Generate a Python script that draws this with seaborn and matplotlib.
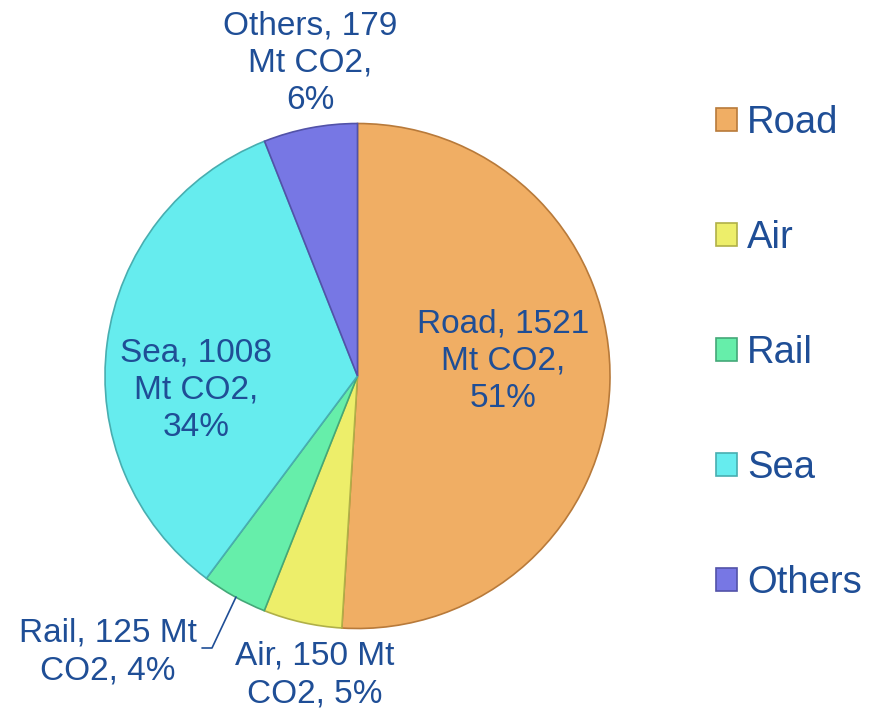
import matplotlib
matplotlib.use("Agg")
import matplotlib.pyplot as plt
from matplotlib.patches import Patch
import seaborn as sns

categories = ["Road", "Air", "Rail", "Sea", "Others"]
values = [1521, 150, 125, 1008, 179]
percents = [51, 5, 4, 34, 6]
label_texts = [
    "Road, 1521\nMt CO2,\n51%",
    "Air, 150 Mt\nCO2, 5%",
    "Rail, 125 Mt\nCO2, 4%",
    "Sea, 1008\nMt CO2,\n34%",
    "Others, 179\nMt CO2,\n6%",
]
fill_colors = ["#F0AE64", "#EDEE6A", "#66EEAA", "#66ECEE", "#7777E4"]
edge_colors = ["#B87A3A", "#B0B048", "#44A878", "#48AEB0", "#5252A8"]

sns.set_style("white")
plt.rcParams["font.family"] = ["Liberation Sans", "DejaVu Sans"]
text_color = "#1F4E96"

W, H = 881, 714
fig = plt.figure(figsize=(W / 100, H / 100), dpi=100)
cx, cy, r = 357.5, 376, 252.5
ax = fig.add_axes([(cx - r) / W, (H - cy - r) / H, 2 * r / W, 2 * r / H])
wedges, _ = ax.pie(values, startangle=90, counterclock=False, radius=1,
                   colors=fill_colors, wedgeprops=dict(linewidth=1.2))
for w, ec in zip(wedges, edge_colors):
    w.set_edgecolor(ec)
ax.set_xlim(-1, 1)
ax.set_ylim(-1, 1)
ax.set_aspect("equal")
ax.axis("off")

def px2d(px, py):
    return (px - cx) / r, (cy - py) / r

label_pos_px = [(503, 361), (315, 675), (108, 652), (196, 390), (310, 63)]
for txt, (px, py) in zip(label_texts, label_pos_px):
    x, y = px2d(px, py)
    ax.text(x, y, txt, ha="center", va="center", fontsize=24, color=text_color,
            linespacing=1.27, clip_on=False)

# leader line for Rail
pts = [px2d(202, 648), px2d(212, 648), px2d(236, 597)]
ax.plot([p[0] for p in pts], [p[1] for p in pts], color=text_color, lw=1.2, clip_on=False)

handles = [Patch(facecolor=fc, edgecolor=ec, linewidth=1.2) for fc, ec in zip(fill_colors, edge_colors)]
leg = fig.legend(handles, categories, loc="center left", bbox_to_anchor=(701 / W, 1 - 353 / H),
                 frameon=False, fontsize=27.5, handlelength=0.55, handleheight=0.55,
                 handletextpad=0.25, labelspacing=2.07, borderaxespad=0)
for t in leg.get_texts():
    t.set_color(text_color)

fig.savefig("out.png", dpi=100)
